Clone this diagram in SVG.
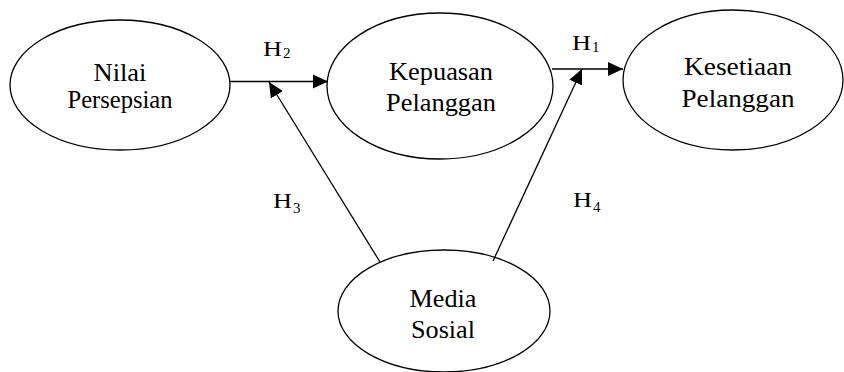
<svg xmlns="http://www.w3.org/2000/svg" width="844" height="372" viewBox="0 0 844 372">
<defs>
<style>
.node ellipse{fill:#fff;stroke:#000;stroke-width:1.3}
.lbl{font-family:"Liberation Serif","Times New Roman",serif;font-size:25px;fill:#000;text-anchor:middle}
.h{font-family:"Liberation Serif","Times New Roman",serif;font-size:22px;fill:#000}
.s{font-family:"Liberation Serif","Times New Roman",serif;font-size:15px;fill:#000}
.conn line{stroke:#000;stroke-width:1.3}
</style>
<marker id="arr" markerUnits="userSpaceOnUse" markerWidth="16" markerHeight="16" viewBox="0 0 16 16" refX="15" refY="8" orient="auto">
<path d="M0,1 L15,8 L0,15 Z" fill="#000"/>
</marker>
</defs>
<rect width="844" height="372" fill="#fff"/>
<g id="nilai" class="node">
<ellipse cx="120" cy="85" rx="110" ry="65"/>
<text class="lbl" x="120" y="81" textLength="53" lengthAdjust="spacingAndGlyphs">Nilai</text>
<text class="lbl" x="120" y="108" textLength="105" lengthAdjust="spacingAndGlyphs">Persepsian</text>
</g>
<g id="kepuasan" class="node">
<ellipse cx="440" cy="86" rx="113" ry="73"/>
<text class="lbl" x="441" y="80" textLength="104" lengthAdjust="spacingAndGlyphs">Kepuasan</text>
<text class="lbl" x="441" y="111" textLength="110" lengthAdjust="spacingAndGlyphs">Pelanggan</text>
</g>
<g id="kesetiaan" class="node">
<ellipse cx="733" cy="80" rx="110" ry="70"/>
<text class="lbl" x="738" y="75" textLength="108" lengthAdjust="spacingAndGlyphs">Kesetiaan</text>
<text class="lbl" x="738" y="107" textLength="113" lengthAdjust="spacingAndGlyphs">Pelanggan</text>
</g>
<g id="media" class="node">
<ellipse cx="444" cy="311" rx="106" ry="61"/>
<text class="lbl" x="443" y="307" textLength="67" lengthAdjust="spacingAndGlyphs">Media</text>
<text class="lbl" x="443" y="338" textLength="64" lengthAdjust="spacingAndGlyphs">Sosial</text>
</g>
<g id="connectors" class="conn">
<line x1="230" y1="81.5" x2="328" y2="81.5" marker-end="url(#arr)"/>
<line x1="552" y1="69" x2="623" y2="69" marker-end="url(#arr)"/>
<line x1="380" y1="262" x2="269" y2="82" marker-end="url(#arr)"/>
<line x1="493" y1="261" x2="582" y2="69" marker-end="url(#arr)"/>
</g>
<g id="labels">
<text class="h" x="263" y="56" textLength="19" lengthAdjust="spacingAndGlyphs">H</text><text class="s" x="283" y="58">2</text>
<text class="h" x="572" y="50" textLength="19" lengthAdjust="spacingAndGlyphs">H</text><text class="s" x="592" y="52">1</text>
<text class="h" x="273" y="208" textLength="19" lengthAdjust="spacingAndGlyphs">H</text><text class="s" x="293" y="213">3</text>
<text class="h" x="573" y="207" textLength="19" lengthAdjust="spacingAndGlyphs">H</text><text class="s" x="593" y="212">4</text>
</g>
</svg>
